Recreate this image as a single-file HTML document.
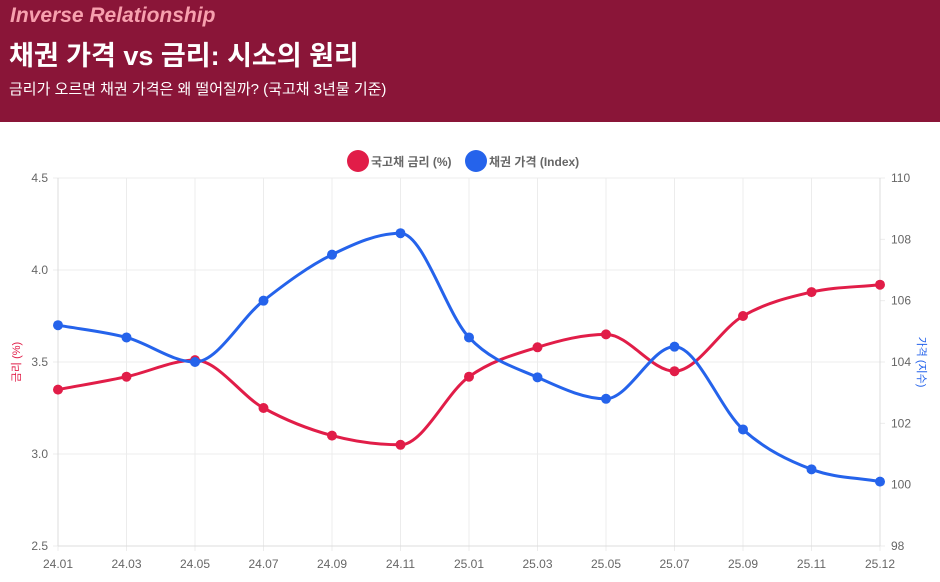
<!DOCTYPE html>
<html><head><meta charset="utf-8"><style>
body{margin:0;width:940px;height:582px;background:#fff;font-family:"Liberation Sans","Noto Sans CJK KR",sans-serif;overflow:hidden}
.hd{position:absolute;left:0;top:0;width:940px;height:122px;background:#8a1538}
.t1{position:absolute;left:10px;top:4px;font-size:21px;font-style:italic;font-weight:bold;color:#f7a0ae}
.t2{position:absolute;left:9px;top:34px;font-size:27px;font-weight:bold;color:#fff}
.t3{position:absolute;left:9px;top:78px;font-size:15px;color:#fff}
svg{position:absolute;left:0;top:0}
</style></head><body>
<div class="hd"><div class="t1">Inverse Relationship</div><div class="t2">채권 가격 vs 금리: 시소의 원리</div><div class="t3">금리가 오르면 채권 가격은 왜 떨어질까? (국고채 3년물 기준)</div></div>
<svg id="s" width="940" height="582" font-family="Liberation Sans, Noto Sans CJK KR, sans-serif"></svg>
<script>
var s=document.getElementById('s'),h='';
var L=58,R=880,T=178,B=546,n=13,dx=(R-L)/12;
var labs=['24.01','24.03','24.05','24.07','24.09','24.11','25.01','25.03','25.05','25.07','25.09','25.11','25.12'];
var red=[3.35,3.42,3.51,3.25,3.10,3.05,3.42,3.58,3.65,3.45,3.75,3.88,3.92];
var blue=[105.2,104.8,104.0,106.0,107.5,108.2,104.8,103.5,102.8,104.5,101.8,100.5,100.1];
for(var i=0;i<5;i++){var y=T+i*92;h+='<line x1="'+(L-5)+'" x2="'+R+'" y1="'+y+'" y2="'+y+'" stroke="#ececec"/>';
h+='<text x="48" y="'+(y+4)+'" font-size="12" fill="#666" text-anchor="end">'+(4.5-i*0.5).toFixed(1)+'</text>';}
for(i=0;i<7;i++){var y=T+i*(B-T)/6;h+='<line x1="'+R+'" x2="'+(R+5)+'" y1="'+y+'" y2="'+y+'" stroke="#ececec"/>';
h+='<text x="891" y="'+(y+4)+'" font-size="12" fill="#666">'+(110-i*2)+'</text>';}
for(i=0;i<n;i++){var x=L+i*dx;h+='<line x1="'+x+'" x2="'+x+'" y1="'+T+'" y2="'+(B+5)+'" stroke="#ececec"/>';
h+='<text x="'+x+'" y="568" font-size="12" fill="#666" text-anchor="middle">'+labs[i]+'</text>';}
h+='<line x1="'+L+'" x2="'+L+'" y1="'+T+'" y2="'+B+'" stroke="#ddd"/><line x1="'+L+'" x2="'+R+'" y1="'+B+'" y2="'+B+'" stroke="#ddd"/><line x1="'+R+'" x2="'+R+'" y1="'+T+'" y2="'+B+'" stroke="#ddd"/>';
function path(ys){var xs=ys.map(function(_,i){return L+i*dx});var d=[],m=[];
for(i=0;i<n-1;i++)d.push((ys[i+1]-ys[i])/dx);
m[0]=d[0];m[n-1]=d[n-2];for(i=1;i<n-1;i++)m[i]=(d[i-1]*d[i]<=0)?0:(d[i-1]+d[i])/2;
for(i=0;i<n-1;i++){if(d[i]==0){m[i]=m[i+1]=0;continue;}var a=m[i]/d[i],b=m[i+1]/d[i],q=a*a+b*b;if(q>9){var t=3/Math.sqrt(q);m[i]=t*a*d[i];m[i+1]=t*b*d[i];}}
var p='M'+xs[0]+','+ys[0];for(i=0;i<n-1;i++){var k=dx/3;p+='C'+(xs[i]+k)+','+(ys[i]+m[i]*k)+' '+(xs[i+1]-k)+','+(ys[i+1]-m[i+1]*k)+' '+xs[i+1]+','+ys[i+1];}return p;}
var ry=red.map(function(v){return T+(4.5-v)*184}),by=blue.map(function(v){return T+(110-v)*(B-T)/12});
[[ry,'#e11d48'],[by,'#2563eb']].forEach(function(a){h+='<path d="'+path(a[0])+'" fill="none" stroke="'+a[1]+'" stroke-width="3"/>';
a[0].forEach(function(y,i){h+='<circle cx="'+(L+i*dx)+'" cy="'+y+'" r="5" fill="'+a[1]+'"/>';});});
h+='<circle cx="358" cy="161" r="11" fill="#e11d48"/><text x="371" y="166" font-size="12" font-weight="bold" fill="#666">국고채 금리 (%)</text>';
h+='<circle cx="476" cy="161" r="11" fill="#2563eb"/><text x="489" y="166" font-size="12" font-weight="bold" fill="#666">채권 가격 (Index)</text>';
h+='<text transform="translate(20,362) rotate(-90)" font-size="11" fill="#e11d48" text-anchor="middle">금리 (%)</text>';
h+='<text transform="translate(918,362) rotate(90)" font-size="11" fill="#2563eb" text-anchor="middle">가격 (지수)</text>';
s.innerHTML=h;
</script>
</body></html>
